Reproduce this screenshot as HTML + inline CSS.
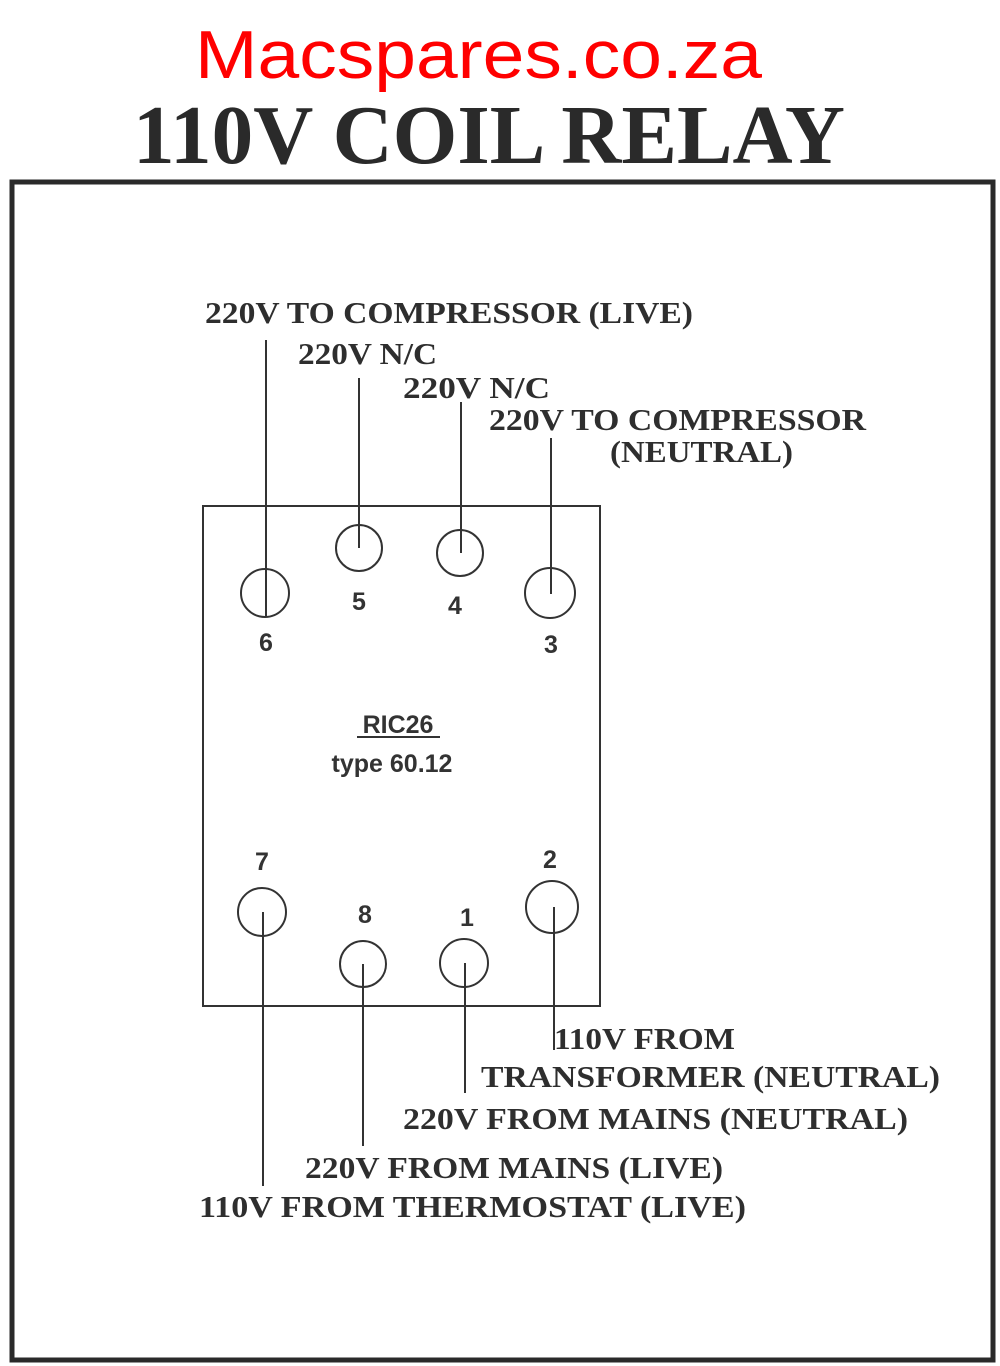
<!DOCTYPE html>
<html><head><meta charset="utf-8"><style>
html,body{margin:0;padding:0;background:#fff;}
svg{display:block;}
.l{font-family:"Liberation Serif",serif;font-weight:bold;font-size:31px;fill:#2e2e2e;}
.n{font-family:"Liberation Sans",sans-serif;font-weight:bold;font-size:25px;fill:#333;}
</style></head><body>
<svg width="1000" height="1366" viewBox="0 0 1000 1366" xmlns="http://www.w3.org/2000/svg">
<rect width="1000" height="1366" fill="#fff"/>
<text x="195" y="78" textLength="567" lengthAdjust="spacingAndGlyphs" font-family="Liberation Sans, sans-serif" font-size="68" fill="#ff0000">Macspares.co.za</text>
<text x="133" y="163" textLength="712" lengthAdjust="spacingAndGlyphs" font-family="Liberation Serif, serif" font-weight="bold" font-size="84" fill="#2a2a2a">110V COIL RELAY</text>
<rect x="12" y="182" width="981" height="1178" fill="none" stroke="#2a2a2a" stroke-width="5"/>
<rect x="203" y="506" width="397" height="500" fill="none" stroke="#333" stroke-width="2"/>
<g fill="none" stroke="#333" stroke-width="2">
<circle cx="265" cy="593" r="24"/><circle cx="359" cy="548" r="23"/><circle cx="460" cy="553" r="23"/><circle cx="550" cy="593" r="25"/>
<circle cx="262" cy="912" r="24"/><circle cx="363" cy="964" r="23"/><circle cx="464" cy="963" r="24"/><circle cx="552" cy="907" r="26"/>
<line x1="266" y1="340" x2="266" y2="616"/><line x1="359" y1="378" x2="359" y2="548"/><line x1="461" y1="402" x2="461" y2="553"/><line x1="551" y1="438" x2="551" y2="594"/>
<line x1="263" y1="912" x2="263" y2="1186"/><line x1="363" y1="964" x2="363" y2="1146"/><line x1="465" y1="963" x2="465" y2="1093"/><line x1="554" y1="907" x2="554" y2="1050"/>
</g>
<g class="n" text-anchor="middle">
<text x="266" y="651">6</text><text x="359" y="610">5</text><text x="455" y="614">4</text><text x="551" y="653">3</text>
<text x="262" y="870">7</text><text x="365" y="923">8</text><text x="467" y="926">1</text><text x="550" y="868">2</text>
<text x="398" y="733">RIC26</text><text x="392" y="772">type 60.12</text>
</g>
<line x1="357" y1="737" x2="440" y2="737" stroke="#333" stroke-width="2"/>
<g class="l">
<text x="205" y="323" textLength="488" lengthAdjust="spacingAndGlyphs">220V TO COMPRESSOR (LIVE)</text>
<text x="298" y="364" textLength="139" lengthAdjust="spacingAndGlyphs">220V N/C</text>
<text x="403" y="398" textLength="147" lengthAdjust="spacingAndGlyphs">220V N/C</text>
<text x="489" y="430" textLength="377" lengthAdjust="spacingAndGlyphs">220V TO COMPRESSOR</text>
<text x="610" y="462" textLength="183" lengthAdjust="spacingAndGlyphs">(NEUTRAL)</text>
<text x="554" y="1049" textLength="181" lengthAdjust="spacingAndGlyphs">110V FROM</text>
<text x="481" y="1087" textLength="459" lengthAdjust="spacingAndGlyphs">TRANSFORMER (NEUTRAL)</text>
<text x="403" y="1129" textLength="505" lengthAdjust="spacingAndGlyphs">220V FROM MAINS (NEUTRAL)</text>
<text x="305" y="1178" textLength="418" lengthAdjust="spacingAndGlyphs">220V FROM MAINS (LIVE)</text>
<text x="199" y="1217" textLength="547" lengthAdjust="spacingAndGlyphs">110V FROM THERMOSTAT (LIVE)</text>
</g>
</svg>
</body></html>
